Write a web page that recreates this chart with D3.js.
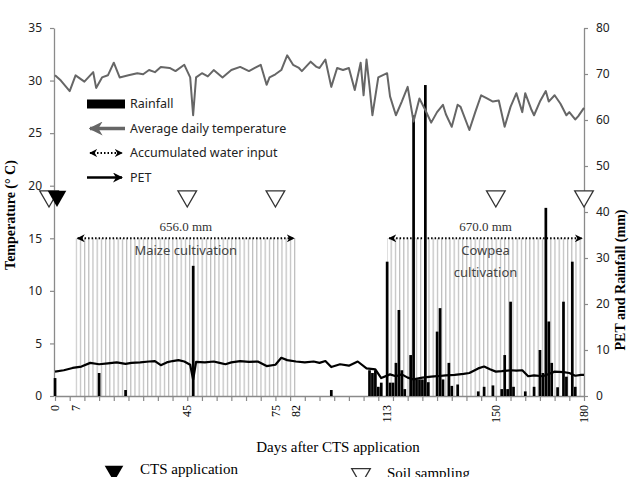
<!DOCTYPE html>
<html>
<head>
<meta charset="utf-8">
<script src="https://cdn.jsdelivr.net/npm/d3@7"></script>
<style>
body { margin: 0; background: #fff; }
svg { display: block; }
</style>
</head>
<body>
<script>
var width = 637
var height = 477
var plotLeft = 55, plotRight = 584, plotTop = 28, plotBottom = 396

// average daily temperature (deg C)
var tempDays = [0,2,5,7,10,13,14,16,18,20,22,25,28,30,32,34,36,39,41,44,46,47,48,50,52,54,57,60,63,66,68,70,72,73,75,77,79,81,83,84,87,89,90,92,94,96,98,100,102,104,105,106,107,108,110,113,114,116,118,120,122,124,126,128,130,132,133,135,137,138,141,143,145,147,149,151,153,155,157,159,160,162,163,165,167,168,170,172,174,175,177,178,180]
var tempVals = [30.5,30.0,29.0,30.5,29.9,30.8,29.3,30.3,30.5,31.7,30.3,30.5,30.7,30.6,31.0,30.8,31.3,31.2,30.9,31.5,30.3,26.7,30.3,30.7,30.4,31.0,30.3,31.0,31.3,30.9,31.2,31.5,29.6,30.3,30.6,31.0,32.4,31.5,31.2,30.9,31.8,31.3,31.2,32.0,29.4,31.2,31.0,31.2,29.1,31.7,28.6,32.0,29.5,26.7,30.3,30.7,28.5,26.7,28.0,29.4,26.1,28.3,27.2,26.0,27.0,27.7,26.8,25.6,27.7,27.5,25.3,27.0,28.6,28.3,28.0,28.1,25.6,27.5,28.8,27.0,28.8,27.3,26.7,28.0,29.0,28.0,28.6,27.8,26.7,27.0,26.3,26.6,27.4]

// PET (mm)
var petDays = [0,3,6,9,12,15,18,21,24,26,29,32,34,36,38,40,42,44,46,47,48,51,54,56,58,60,63,66,69,72,75,77,79,82,85,88,90,92,94,97,100,103,106,109,111,114,116,118,120,122,125,128,130,133,136,139,141,144,146,148,150,152,155,157,159,161,163,166,168,170,173,175,177,179,180]
var petVals = [5.3,5.6,6.1,6.4,7.2,6.9,7.1,7.3,7.0,7.2,7.3,7.5,7.6,6.7,7.3,7.6,7.8,7.5,6.8,3.5,7.4,7.3,7.5,7.2,6.9,7.3,7.6,7.4,7.5,6.5,6.8,8.3,7.8,7.5,7.3,7.5,7.2,7.6,6.3,6.9,6.6,7.5,6.0,5.8,3.9,4.7,4.3,4.7,4.0,3.6,4.0,4.2,4.3,4.5,4.6,4.8,5.0,6.0,6.4,5.8,5.3,5.4,5.6,5.5,5.6,4.3,4.5,4.3,4.8,5.3,5.2,5.0,4.4,4.6,4.6]

// rainfall (mm)
var rainDays = [0,15,24,47,94,107,108,109,110,111,113,114,115,116,117,118,119,121,122,123,124,125,126,127,130,131,132,134,135,137,144,146,149,152,153,154,155,156,160,163,165,166,167,168,169,171,173,174,176,177]
var rainVals = [3.9,5.0,1.3,28.3,1.3,5.6,5.0,5.6,2.0,2.9,29.2,2.9,2.9,7.2,18.7,5.6,1.5,8.9,61.0,3.6,3.6,3.6,67.6,3.0,14.0,19.1,3.6,7.2,2.2,2.5,1.0,2.0,2.3,1.5,8.9,1.5,20.5,2.0,1.0,2.0,10.0,5.0,40.9,16.2,7.2,1.9,20.5,4.2,29.2,2.0]

// accumulated water input per crop
var cropNames = ["Maize cultivation", "Cowpea cultivation"]
var cropStart = [7, 113]
var cropEnd = [82, 180]
var cropWater = ["656.0 mm", "670.0 mm"]
var arrowLevel = 15   // on the temperature axis

var soilSamplingDays = [0, 45, 75, 150, 180]
var ctsDays = [0]
var markerLevel = 19

var xLabels = [0, 7, 45, 75, 82, 113, 150, 180]
var tempTicks = [0, 5, 10, 15, 20, 25, 30, 35]
var rainTicks = [0, 10, 20, 30, 40, 50, 60, 70, 80]

var serif = "'Liberation Serif', 'Times New Roman', serif"
var sans = "'Noto Sans', 'Open Sans', sans-serif"

var x = d3.scaleLinear().domain([0, 180]).range([plotLeft, plotRight])
var yT = d3.scaleLinear().domain([0, 35]).range([plotBottom, plotTop])
var yR = d3.scaleLinear().domain([0, 80]).range([plotBottom, plotTop])

var svg = d3.select("body").append("svg")
  .attr("width", width)
  .attr("height", height)

var defs = svg.append("defs")
var pat = defs.append("pattern")
  .attr("id", "vlines")
  .attr("patternUnits", "userSpaceOnUse")
  .attr("width", 4.2).attr("height", 10)
pat.append("line").attr("x1", 0.6).attr("x2", 0.6).attr("y1", 0).attr("y2", 10)
  .attr("stroke", "#bcbcbc").attr("stroke-width", 1.2)

function marker(id, color, dir) {
  var m = defs.append("marker")
    .attr("id", id)
    .attr("viewBox", "0 0 10 10")
    .attr("refX", dir == "end" ? 9 : 1).attr("refY", 5)
    .attr("markerWidth", 4).attr("markerHeight", 4)
    .attr("orient", "auto-start-reverse")
  m.append("path").attr("d", "M0,0 L10,5 L0,10 L3,5 Z").attr("fill", color)
}
marker("arrBlack", "#000", "end")
marker("arrGray", "#666", "end")

// shaded crop periods
svg.append("g").selectAll("rect")
  .data(cropStart)
  .enter().append("rect")
  .attr("x", function(d) { return x(d) })
  .attr("width", function(d, i) { return x(cropEnd[i]) - x(d) })
  .attr("y", yT(arrowLevel))
  .attr("height", function() { return yT(0) - yT(arrowLevel) })
  .attr("fill", "url(#vlines)")

// axes
function styleAxis(g) {
  g.select(".domain").attr("stroke", "#8a8a8a").attr("stroke-width", 1.3)
  g.selectAll(".tick line").attr("stroke", "#8a8a8a").attr("stroke-width", 1.2)
  g.selectAll(".tick text").attr("fill", "#222").style("font-family", sans).style("font-size", "12px")
}

svg.append("g")
  .attr("transform", "translate(" + (plotLeft - 1) + ",0)")
  .call(d3.axisLeft(yT).tickValues(tempTicks).tickSize(4).tickSizeOuter(0).tickPadding(8))
  .call(styleAxis)

svg.append("g")
  .attr("transform", "translate(" + plotRight + ",0)")
  .call(d3.axisRight(yR).tickValues(rainTicks).tickSize(4).tickSizeOuter(0).tickPadding(8))
  .call(styleAxis)

svg.append("g")
  .attr("transform", "translate(0," + plotBottom + ")")
  .call(d3.axisBottom(x).tickValues(d3.range(0, 181, 5)).tickSize(5).tickSizeOuter(0).tickFormat(""))
  .call(styleAxis)

svg.append("g").selectAll("text")
  .data(xLabels)
  .enter().append("text")
  .attr("transform", function(d) { return "translate(" + x(d) + "," + (plotBottom + 9) + ") rotate(-90)" })
  .attr("dy", "0.35em")
  .attr("text-anchor", "end")
  .style("font-family", serif).style("font-size", "12px")
  .text(function(d) { return d })

// rainfall bars
svg.append("g").selectAll("rect")
  .data(rainDays)
  .enter().append("rect")
  .attr("x", function(d) { return x(d) - 1.3 })
  .attr("width", 2.7)
  .attr("y", function(d, i) { return yR(rainVals[i]) })
  .attr("height", function(d, i) { return yR(0) - yR(rainVals[i]) })
  .attr("fill", "#000")

// temperature line
svg.append("path")
  .datum(tempDays)
  .attr("fill", "none")
  .attr("stroke", "#666")
  .attr("stroke-width", 2)
  .attr("stroke-linejoin", "round")
  .attr("d", d3.line()
    .x(function(d) { return x(d) })
    .y(function(d, i) { return yT(tempVals[i]) }))

// PET line
svg.append("path")
  .datum(petDays)
  .attr("fill", "none")
  .attr("stroke", "#000")
  .attr("stroke-width", 2.2)
  .attr("stroke-linejoin", "round")
  .attr("d", d3.line()
    .x(function(d) { return x(d) })
    .y(function(d, i) { return yR(petVals[i]) }))

// accumulated water input arrows
var crops = svg.append("g")
crops.selectAll("line")
  .data(cropStart)
  .enter().append("line")
  .attr("x1", function(d) { return x(d) + 2 })
  .attr("x2", function(d, i) { return x(cropEnd[i]) - 2 })
  .attr("y1", yT(arrowLevel)).attr("y2", yT(arrowLevel))
  .attr("stroke", "#000").attr("stroke-width", 2)
  .attr("stroke-dasharray", "1.5,2")
  .attr("marker-start", "url(#arrBlack)")
  .attr("marker-end", "url(#arrBlack)")

crops.selectAll("text.water")
  .data(cropWater)
  .enter().append("text")
  .attr("class", "water")
  .attr("x", function(d, i) { return x((cropStart[i] + cropEnd[i]) / 2) })
  .attr("y", yT(arrowLevel) - 7)
  .attr("text-anchor", "middle")
  .style("font-family", serif).style("font-size", "13px").attr("fill", "#333")
  .text(function(d) { return d })

// maize label on one line, cowpea on two
crops.append("text")
  .attr("x", x((cropStart[0] + cropEnd[0]) / 2))
  .attr("y", yT(arrowLevel) + 17)
  .attr("text-anchor", "middle")
  .style("font-family", sans).style("font-size", "13px").attr("fill", "#444")
  .text(cropNames[0])

crops.append("text")
  .attr("x", x((cropStart[1] + cropEnd[1]) / 2))
  .attr("y", yT(arrowLevel) + 17)
  .attr("text-anchor", "middle")
  .style("font-family", sans).style("font-size", "13px").attr("fill", "#444")
  .selectAll("tspan")
  .data(cropNames[1].split(" "))
  .enter().append("tspan")
  .attr("x", x((cropStart[1] + cropEnd[1]) / 2))
  .attr("dy", function(d, i) { return i == 0 ? 0 : 22 })
  .text(function(d) { return d })

// sampling markers
var tri = d3.symbol().type(d3.symbolTriangle).size(150)
svg.append("g").selectAll("path")
  .data(soilSamplingDays)
  .enter().append("path")
  .attr("d", tri)
  .attr("transform", function(d, i) { return "translate(" + (x(d) - (i == 0 ? 6 : 0)) + "," + yT(markerLevel) + ") rotate(180)" })
  .attr("fill", "#fff").attr("stroke", "#333").attr("stroke-width", 1.3)

svg.append("g").selectAll("path")
  .data(ctsDays)
  .enter().append("path")
  .attr("d", tri)
  .attr("transform", function(d) { return "translate(" + (x(d) + 2) + "," + yT(markerLevel) + ") rotate(180)" })
  .attr("fill", "#000")

// legend
var legend = svg.append("g").style("font-family", sans).style("font-size", "12.5px")
var legendItems = ["Rainfall", "Average daily temperature", "Accumulated water input", "PET"]
legendItems.forEach(function(name, i) {
  var ly = 104 + i * 24.5
  if (i == 0) {
    legend.append("rect").attr("x", 87).attr("y", ly - 4.5).attr("width", 38).attr("height", 9).attr("fill", "#000")
  } else if (i == 1) {
    legend.append("line").attr("x1", 90).attr("x2", 125).attr("y1", ly).attr("y2", ly)
      .attr("stroke", "#666").attr("stroke-width", 3.5).attr("marker-start", "url(#arrGray)")
  } else if (i == 2) {
    legend.append("line").attr("x1", 90).attr("x2", 122).attr("y1", ly).attr("y2", ly)
      .attr("stroke", "#000").attr("stroke-width", 2).attr("stroke-dasharray", "1.5,2")
      .attr("marker-start", "url(#arrBlack)").attr("marker-end", "url(#arrBlack)")
  } else {
    legend.append("line").attr("x1", 87).attr("x2", 122).attr("y1", ly).attr("y2", ly)
      .attr("stroke", "#000").attr("stroke-width", 2.5).attr("marker-end", "url(#arrBlack)")
  }
  legend.append("text").attr("x", 130).attr("y", ly).attr("dy", "0.35em").attr("fill", "#222").text(name)
})

// axis titles
svg.append("text")
  .attr("transform", "translate(15,215) rotate(-90)")
  .attr("text-anchor", "middle")
  .style("font-family", serif).style("font-size", "14px").style("font-weight", "bold")
  .text("Temperature (° C)")

svg.append("text")
  .attr("transform", "translate(625,280) rotate(-90)")
  .attr("text-anchor", "middle")
  .style("font-family", serif).style("font-size", "14px").style("font-weight", "bold")
  .text("PET and Rainfall (mm)")

svg.append("text")
  .attr("x", 338).attr("y", 452)
  .attr("text-anchor", "middle")
  .style("font-family", serif).style("font-size", "15px")
  .text("Days after CTS application")

// bottom key
svg.append("path").attr("d", tri).attr("transform", "translate(114,471) rotate(180)").attr("fill", "#000")
svg.append("text").attr("x", 140).attr("y", 474)
  .style("font-family", serif).style("font-size", "15px").text("CTS application")
svg.append("path").attr("d", tri).attr("transform", "translate(361,474) rotate(180)")
  .attr("fill", "#fff").attr("stroke", "#333").attr("stroke-width", 1.3)
svg.append("text").attr("x", 387).attr("y", 478)
  .style("font-family", serif).style("font-size", "15px").text("Soil sampling")
</script>
</body>
</html>
